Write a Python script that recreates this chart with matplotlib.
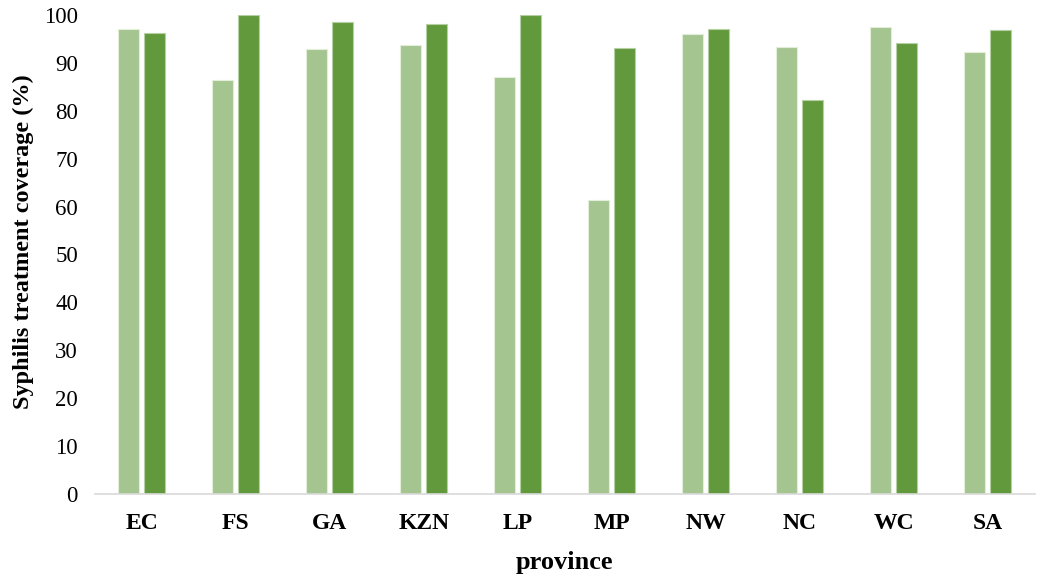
import numpy as np
import matplotlib
matplotlib.use('Agg')
import matplotlib.pyplot as plt

# 数据
provinces = ['EC', 'FS', 'GA', 'KZN', 'LP', 'MP', 'NW', 'NC', 'WC', 'SA']
series_a = [97.1, 86.4, 93.0, 93.7, 87.1, 61.3, 96.0, 93.4, 97.5, 92.2]
series_b = [96.3, 100.0, 98.5, 98.2, 100.0, 93.2, 97.1, 82.3, 94.1, 96.9]
y_ticks = list(range(0, 101, 10))

plt.rcParams['font.family'] = ['Liberation Serif', 'DejaVu Serif']

fig = plt.figure(figsize=(10.4, 5.77), dpi=100)
ax = fig.add_axes([0.091, 0.144, 0.904, 0.830])

x = np.arange(len(provinces))
w = 0.225
ax.bar(x - 0.137, series_a, width=w, color='#A5C590', edgecolor='#E2EEDA', linewidth=0.8)
ax.bar(x + 0.137, series_b, width=w, color='#63993D', edgecolor='#B5D0A2', linewidth=0.8)

ax.set_xlim(-0.5, len(provinces) - 0.5)
ax.set_ylim(0, 100)
ax.set_yticks(y_ticks)
ax.tick_params(axis='y', length=0, labelsize=16.5, pad=12)
ax.tick_params(axis='x', length=0, labelsize=17, pad=14)
ax.set_xticks(x)
ax.set_xticklabels(provinces, fontweight='bold')

for s in ['top', 'right', 'left']:
    ax.spines[s].set_visible(False)
ax.spines['bottom'].set_color('#D9D9D9')
ax.spines['bottom'].set_linewidth(1.2)

ax.set_xlabel('province', fontsize=19, fontweight='bold', labelpad=12)
ax.set_ylabel('Syphilis treatment coverage (%)', fontsize=17.5, fontweight='bold', labelpad=8)
ax.yaxis.set_label_coords(-0.064, 0.526)

fig.savefig('out.png', dpi=100)
